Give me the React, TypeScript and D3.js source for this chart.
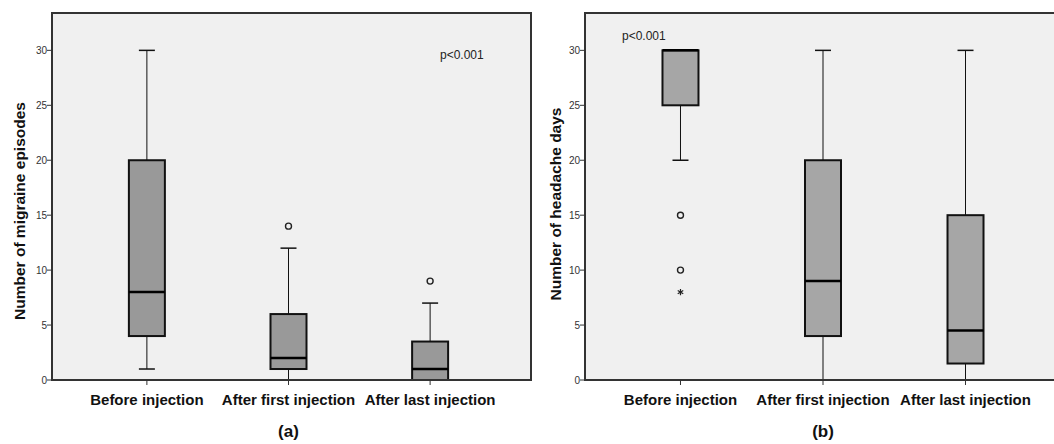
import React from "react";
import * as d3 from "d3";

const categories = ["Before injection", "After first injection", "After last injection"];
const yTicks = [0, 5, 10, 15, 20, 25, 30];

// five-number summaries
const migraineStats = [
  { low: 1, q1: 4, median: 8, q3: 20, high: 30 },
  { low: 0, q1: 1, median: 2, q3: 6, high: 12 },
  { low: 0, q1: 0, median: 1, q3: 3.5, high: 7 },
];
const headacheStats = [
  { low: 20, q1: 25, median: 30, q3: 30, high: 30 },
  { low: 0, q1: 4, median: 9, q3: 20, high: 30 },
  { low: 0, q1: 1.5, median: 4.5, q3: 15, high: 30 },
];

// outliers: circle = mild, star = extreme
const migraineOutliers = [
  { cat: 1, value: 14, kind: "circle" },
  { cat: 2, value: 9, kind: "circle" },
];
const headacheOutliers = [
  { cat: 0, value: 15, kind: "circle" },
  { cat: 0, value: 10, kind: "circle" },
  { cat: 0, value: 8, kind: "star" },
];

const font = "Arial, 'Liberation Sans', sans-serif";

type Stat = { low: number; q1: number; median: number; q3: number; high: number };
type Outlier = { cat: number; value: number; kind: string };

function Panel(props: {
  left: number;
  right: number;
  xEnd: number;
  fill: string;
  stats: Stat[];
  outliers: Outlier[];
  yTitle: string;
  titleX: number;
  titleY: number;
  pX: number;
  pY: number;
  label: string;
}) {
  const { left, right, xEnd, fill, stats, outliers, yTitle, titleX, titleY, pX, pY, label } = props;
  const top = 13;
  const bottom = 380;
  const y = d3.scaleLinear().domain([0, 33.4]).range([bottom, top]);
  const x = d3.scalePoint<string>().domain(categories).range([left, xEnd]).padding(0.67);
  const boxW = 36;
  const capW = 16;
  const star = d3.symbol(d3.symbolAsterisk, 28)() || "";

  return (
    <g>
      <rect x={left} y={top} width={right - left} height={bottom - top} fill="#f0f0f0" />
      {stats.map((s, i) => {
        const cx = x(categories[i]) as number;
        return (
          <g key={i}>
            <line x1={cx} x2={cx} y1={y(s.q3)} y2={y(s.high)} stroke="#111" strokeWidth={1} />
            <line x1={cx} x2={cx} y1={y(s.q1)} y2={y(s.low)} stroke="#111" strokeWidth={1} />
            <line x1={cx - capW / 2} x2={cx + capW / 2} y1={y(s.high)} y2={y(s.high)} stroke="#111" strokeWidth={1.5} />
            <line x1={cx - capW / 2} x2={cx + capW / 2} y1={y(s.low)} y2={y(s.low)} stroke="#111" strokeWidth={1.5} />
            <rect
              x={cx - boxW / 2}
              y={y(s.q3)}
              width={boxW}
              height={y(s.q1) - y(s.q3)}
              fill={fill}
              stroke="#111"
              strokeWidth={2}
            />
            <line x1={cx - boxW / 2} x2={cx + boxW / 2} y1={y(s.median)} y2={y(s.median)} stroke="#000" strokeWidth={2.5} />
          </g>
        );
      })}
      {outliers.map((o, i) => {
        const cx = x(categories[o.cat]) as number;
        return o.kind === "circle" ? (
          <circle key={i} cx={cx} cy={y(o.value)} r={3} fill="none" stroke="#222" strokeWidth={1.4} />
        ) : (
          <path key={i} d={star} transform={`translate(${cx},${y(o.value)})`} stroke="#222" strokeWidth={1.2} fill="none" />
        );
      })}
      {/* frame */}
      <path
        d={`M${left},${bottom}V${top}H${right}V${bottom}Z`}
        fill="none"
        stroke="#333"
        strokeWidth={2}
      />
      {/* y ticks */}
      {yTicks.map((t) => (
        <g key={t}>
          <line x1={left - 5} x2={left} y1={y(t)} y2={y(t)} stroke="#333" strokeWidth={1} />
          <text x={left - 5} y={y(t)} dy="0.35em" textAnchor="end" fontSize={10} fill="#333" fontFamily={font}>
            {t}
          </text>
        </g>
      ))}
      {/* x ticks and labels */}
      {categories.map((c) => (
        <g key={c}>
          <line x1={x(c)} x2={x(c)} y1={bottom} y2={bottom + 5} stroke="#333" strokeWidth={1} />
          <text x={x(c)} y={405} textAnchor="middle" fontSize={15} fontWeight="bold" fill="#111" fontFamily={font}>
            {c}
          </text>
        </g>
      ))}
      <text
        transform={`translate(${titleX},${titleY}) rotate(-90)`}
        textAnchor="middle"
        fontSize={15.5}
        fontWeight="bold"
        fill="#111"
        fontFamily={font}
      >
        {yTitle}
      </text>
      <text x={pX} y={pY} fontSize={12} fill="#222" fontFamily={font}>
        p&lt;0.001
      </text>
      <text
        x={x(categories[1])}
        y={437}
        textAnchor="middle"
        fontSize={17}
        fontWeight="bold"
        fill="#111"
        fontFamily={font}
      >
        {label}
      </text>
    </g>
  );
}

export default function App() {
  return (
    <svg
      width={1054}
      height={444}
      style={{ position: "absolute", left: 0, top: 0, background: "#fff" }}
    >
      <rect width={1054} height={444} fill="#fff" />
      <Panel
        left={52}
        right={531}
        xEnd={525}
        fill="#999999"
        stats={migraineStats}
        outliers={migraineOutliers}
        yTitle="Number of migraine episodes"
        titleX={25}
        titleY={211}
        pX={440}
        pY={59}
        label="(a)"
      />
      <Panel
        left={585}
        right={1070}
        xEnd={1061}
        fill="#a6a6a6"
        stats={headacheStats}
        outliers={headacheOutliers}
        yTitle="Number of headache days"
        titleX={561}
        titleY={204}
        pX={622}
        pY={40}
        label="(b)"
      />
    </svg>
  );
}
